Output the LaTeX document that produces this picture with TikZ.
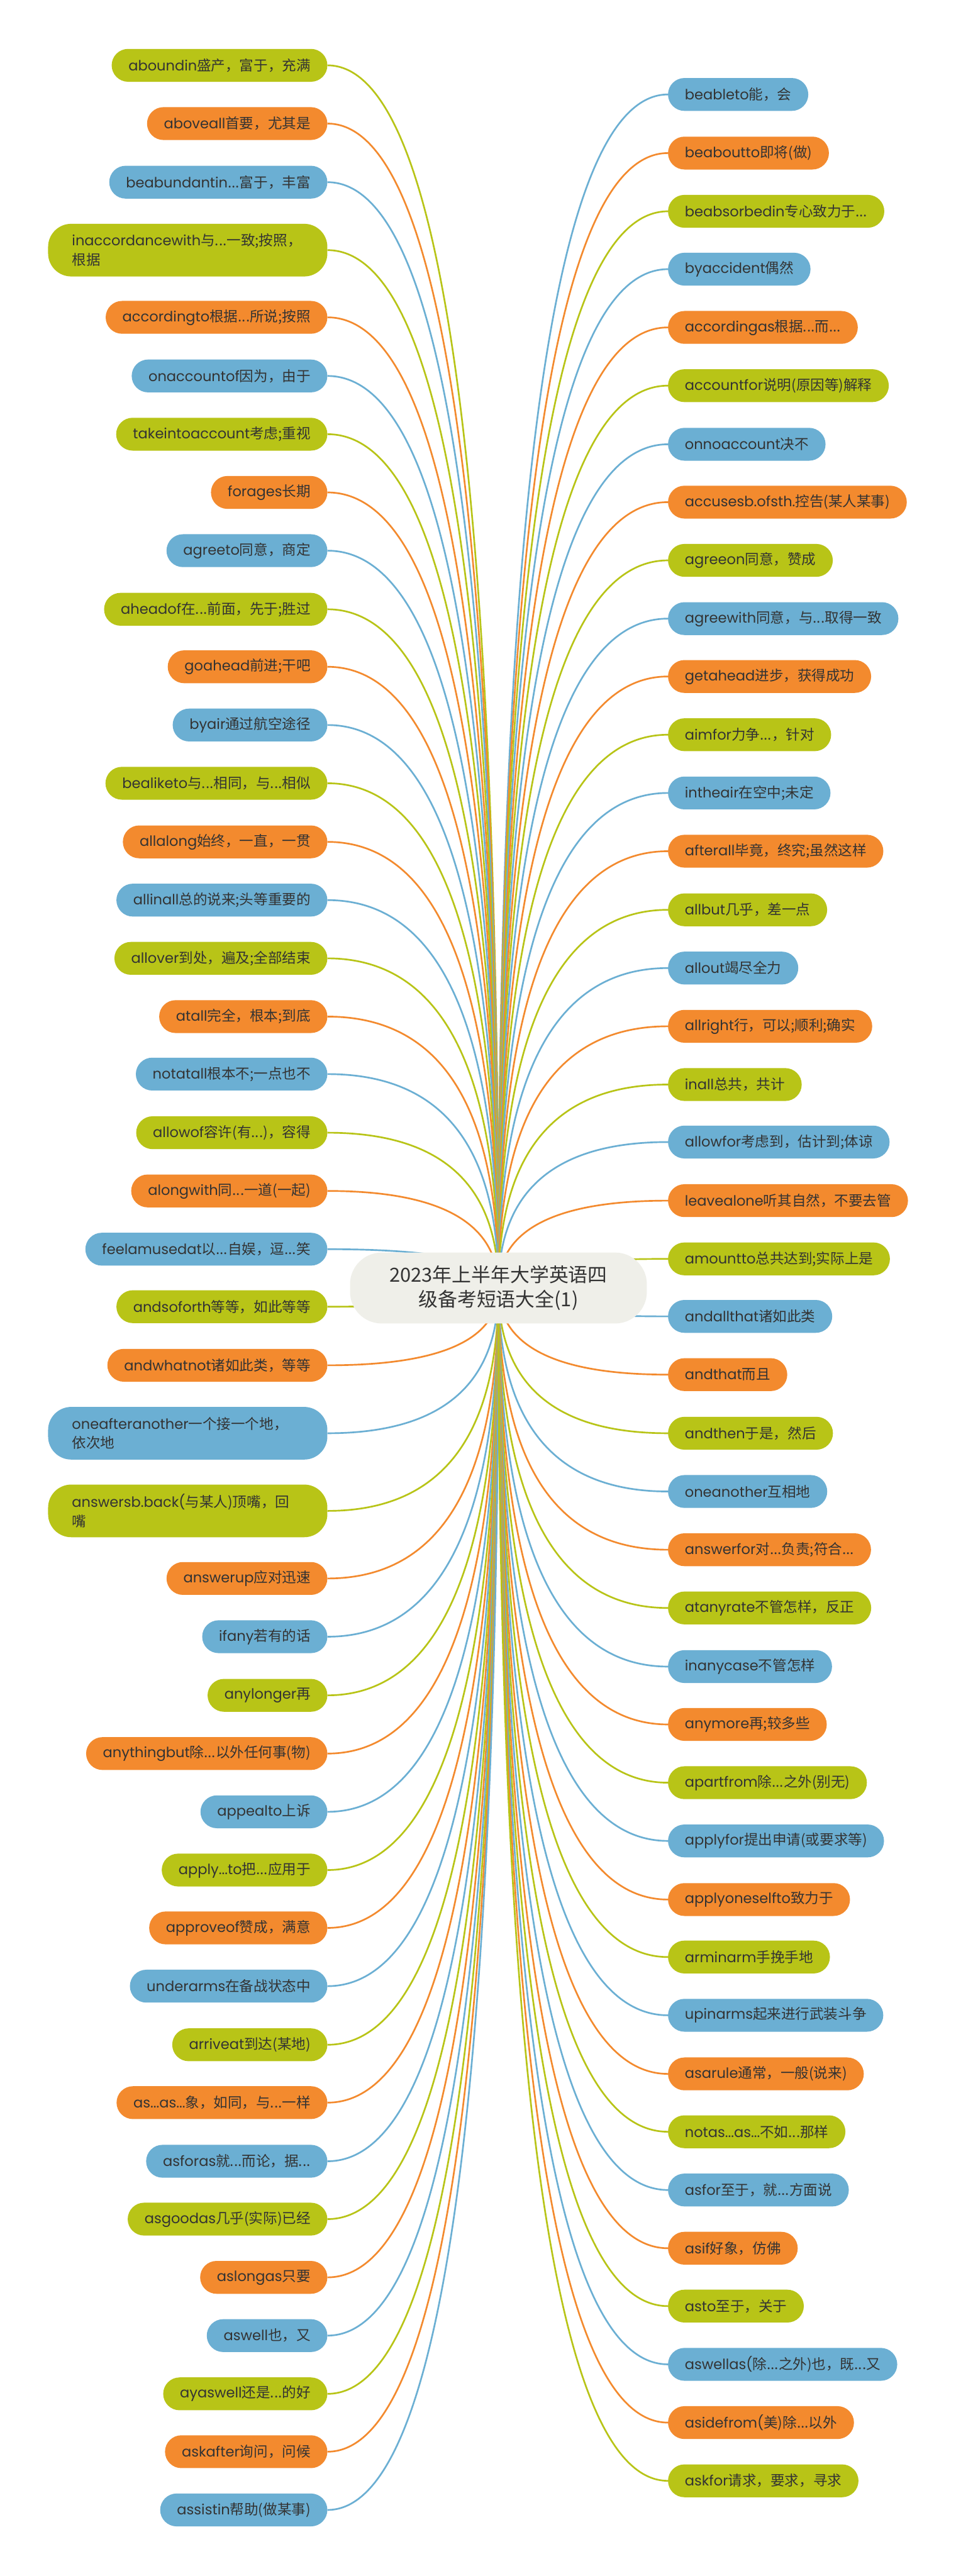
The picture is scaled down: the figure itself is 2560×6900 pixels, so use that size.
\documentclass[tikz,border=0pt]{standalone}
\usepackage{fontspec}
\setmainfont{Poppins}
\newfontfamily\cjk{Noto Sans CJK SC}
\usetikzlibrary{backgrounds,calc}
\definecolor{cg}{HTML}{B8C417}
\definecolor{co}{HTML}{F38A2E}
\definecolor{cb}{HTML}{6BAFD3}
\definecolor{ctrfill}{HTML}{EFEFE9}
\definecolor{txt}{HTML}{333333}
\tikzset{
  leaf/.style={rounded corners=44pt, minimum height=88pt, inner xsep=45pt, inner ysep=0pt,
    text=txt, font=\fontsize{38}{52}\selectfont},
  leaftwo/.style={leaf, rounded corners=62pt, minimum height=141pt, text width=620pt,
    inner xsep=64pt, align=left},
  conn/.style={line width=4.5pt},
  root/.style={fill=ctrfill, rounded corners=85pt, minimum width=795pt, minimum height=190pt,
    align=center, text=txt, font=\cjk\fontsize{52}{66}\selectfont}
}
% #1 style, #2 name, #3 y, #4 colour, #5 latin part, #6 cjk part
\newcommand\Lleaf[6][leaf]{%
  \node[#1, fill=#4, anchor=east] (#2) at (877,#3) {#5\cjk #6};
  \coordinate (#2k) at (ctr.center |- #2.east);
  \begin{pgfonlayer}{background}
    \draw[conn, draw=#4] (ctr.center) .. controls ($(ctr.center)!0.6667!(#2k)$) and ($(#2.east)!0.6667!(#2k)$) .. (#2.east);
  \end{pgfonlayer}}
\newcommand\Rleaf[6][leaf]{%
  \node[#1, fill=#4, anchor=west] (#2) at (1789,#3) {#5\cjk #6};
  \coordinate (#2k) at (ctr.center |- #2.west);
  \begin{pgfonlayer}{background}
    \draw[conn, draw=#4] (ctr.center) .. controls ($(ctr.center)!0.6667!(#2k)$) and ($(#2.west)!0.6667!(#2k)$) .. (#2.west);
  \end{pgfonlayer}}
\begin{document}
\begin{tikzpicture}[x=1pt,y=-1pt]
\begin{pgfonlayer}{background}
  \fill[white] (0,0) rectangle (2560,6900);
\end{pgfonlayer}
\useasboundingbox (0,0) rectangle (2560,6900);
\node[root] (ctr) at (1335,3450) {2023年上半年大学英语四\\级备考短语大全(1)};
% left column
\Lleaf{L1}{175}{cg}{aboundin}{盛产，富于，充满}
\Lleaf{L2}{331}{co}{aboveall}{首要，尤其是}
\Lleaf{L3}{488}{cb}{beabundantin}{...富于，丰富}
\Lleaf[leaftwo]{L4}{670}{cg}{inaccordancewith}{与...一致;按照，\\根据}
\Lleaf{L5}{850}{co}{accordingto}{根据...所说;按照}
\Lleaf{L6}{1007}{cb}{onaccountof}{因为，由于}
\Lleaf{L7}{1163}{cg}{takeintoaccount}{考虑;重视}
\Lleaf{L8}{1319}{co}{forages}{长期}
\Lleaf{L9}{1475}{cb}{agreeto}{同意，商定}
\Lleaf{L10}{1632}{cg}{aheadof}{在...前面，先于;胜过}
\Lleaf{L11}{1786}{co}{goahead}{前进;干吧}
\Lleaf{L12}{1942}{cb}{byair}{通过航空途径}
\Lleaf{L13}{2098}{cg}{bealiketo}{与...相同，与...相似}
\Lleaf{L14}{2255}{co}{allalong}{始终，一直，一贯}
\Lleaf{L15}{2411}{cb}{allinall}{总的说来;头等重要的}
\Lleaf{L16}{2567}{cg}{allover}{到处，遍及;全部结束}
\Lleaf{L17}{2723}{co}{atall}{完全，根本;到底}
\Lleaf{L18}{2877}{cb}{notatall}{根本不;一点也不}
\Lleaf{L19}{3034}{cg}{allowof}{容许(有...)，容得}
\Lleaf{L20}{3190}{co}{alongwith}{同...一道(一起)}
\Lleaf{L21}{3346}{cb}{feelamusedat}{以...自娱，逗...笑}
\Lleaf{L22}{3500}{cg}{andsoforth}{等等，如此等等}
\Lleaf{L23}{3657}{co}{andwhatnot}{诸如此类，等等}
\Lleaf[leaftwo]{L24}{3839}{cb}{oneafteranother}{一个接一个地，\\依次地}
\Lleaf[leaftwo]{L25}{4047}{cg}{answersb.back(}{与某人)顶嘴，回\\嘴}
\Lleaf{L26}{4228}{co}{answerup}{应对迅速}
\Lleaf{L27}{4384}{cb}{ifany}{若有的话}
\Lleaf{L28}{4541}{cg}{anylonger}{再}
\Lleaf{L29}{4697}{co}{anythingbut}{除...以外任何事(物)}
\Lleaf{L30}{4853}{cb}{appealto}{上诉}
\Lleaf{L31}{5009}{cg}{apply...to}{把...应用于}
\Lleaf{L32}{5164}{co}{approveof}{赞成，满意}
\Lleaf{L33}{5320}{cb}{underarms}{在备战状态中}
\Lleaf{L34}{5477}{cg}{arriveat}{到达(某地)}
\Lleaf{L35}{5632}{co}{as...as...}{象，如同，与...一样}
\Lleaf{L36}{5789}{cb}{asforas}{就...而论，据...}
\Lleaf{L37}{5944}{cg}{asgoodas}{几乎(实际)已经}
\Lleaf{L38}{6100}{co}{aslongas}{只要}
\Lleaf{L39}{6256}{cb}{aswell}{也，又}
\Lleaf{L40}{6412}{cg}{ayaswell}{还是...的好}
\Lleaf{L41}{6567}{co}{askafter}{询问，问候}
\Lleaf{L42}{6723}{cb}{assistin}{帮助(做某事)}
% right column
\Rleaf{R1}{253}{cb}{beableto}{能，会}
\Rleaf{R2}{410}{co}{beaboutto}{即将(做)}
\Rleaf{R3}{566}{cg}{beabsorbedin}{专心致力于...}
\Rleaf{R4}{721}{cb}{byaccident}{偶然}
\Rleaf{R5}{877}{co}{accordingas}{根据...而...}
\Rleaf{R6}{1033}{cg}{accountfor}{说明(原因等)解释}
\Rleaf{R7}{1190}{cb}{onnoaccount}{决不}
\Rleaf{R8}{1345}{co}{accusesb.ofsth.}{控告(某人某事)}
\Rleaf{R9}{1501}{cg}{agreeon}{同意，赞成}
\Rleaf{R10}{1657}{cb}{agreewith}{同意，与...取得一致}
\Rleaf{R11}{1812}{co}{getahead}{进步，获得成功}
\Rleaf{R12}{1968}{cg}{aimfor}{力争...，针对}
\Rleaf{R13}{2124}{cb}{intheair}{在空中;未定}
\Rleaf{R14}{2280}{co}{afterall}{毕竟，终究;虽然这样}
\Rleaf{R15}{2437}{cg}{allbut}{几乎，差一点}
\Rleaf{R16}{2593}{cb}{allout}{竭尽全力}
\Rleaf{R17}{2749}{co}{allright}{行，可以;顺利;确实}
\Rleaf{R18}{2905}{cg}{inall}{总共，共计}
\Rleaf{R19}{3059}{cb}{allowfor}{考虑到，估计到;体谅}
\Rleaf{R20}{3216}{co}{leavealone}{听其自然，不要去管}
\Rleaf{R21}{3372}{cg}{amountto}{总共达到;实际上是}
\Rleaf{R22}{3526}{cb}{andallthat}{诸如此类}
\Rleaf{R23}{3682}{co}{andthat}{而且}
\Rleaf{R24}{3839}{cg}{andthen}{于是，然后}
\Rleaf{R25}{3995}{cb}{oneanother}{互相地}
\Rleaf{R26}{4151}{co}{answerfor}{对...负责;符合...}
\Rleaf{R27}{4307}{cg}{atanyrate}{不管怎样，反正}
\Rleaf{R28}{4464}{cb}{inanycase}{不管怎样}
\Rleaf{R29}{4619}{co}{anymore}{再;较多些}
\Rleaf{R30}{4775}{cg}{apartfrom}{除...之外(别无)}
\Rleaf{R31}{4931}{cb}{applyfor}{提出申请(或要求等)}
\Rleaf{R32}{5088}{co}{applyoneselfto}{致力于}
\Rleaf{R33}{5242}{cg}{arminarm}{手挽手地}
\Rleaf{R34}{5398}{cb}{upinarms}{起来进行武装斗争}
\Rleaf{R35}{5555}{co}{asarule}{通常，一般(说来)}
\Rleaf{R36}{5710}{cg}{notas...as...}{不如...那样}
\Rleaf{R37}{5866}{cb}{asfor}{至于，就...方面说}
\Rleaf{R38}{6022}{co}{asif}{好象，仿佛}
\Rleaf{R39}{6177}{cg}{asto}{至于，关于}
\Rleaf{R40}{6333}{cb}{aswellas(}{除...之外)也，既...又}
\Rleaf{R41}{6489}{co}{asidefrom(}{美)除...以外}
\Rleaf{R42}{6645}{cg}{askfor}{请求，要求，寻求}
\end{tikzpicture}
\end{document}
